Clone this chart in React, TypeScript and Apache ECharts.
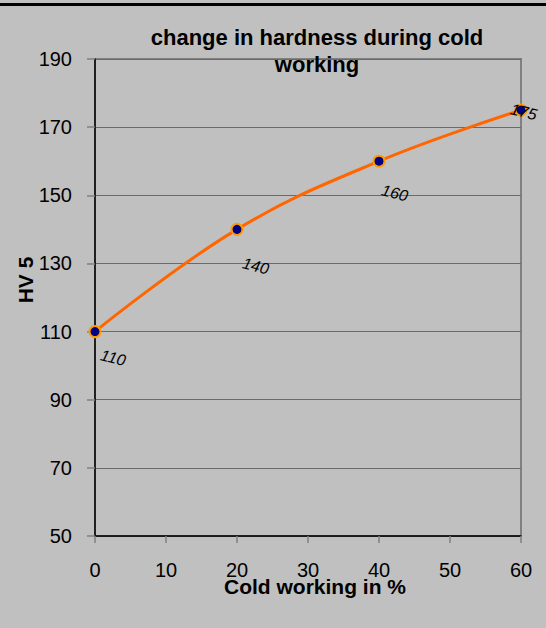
import React, { useEffect, useRef } from "react";
import * as echarts from "echarts";

const coldWorking = [0, 20, 40, 60];
const hardness = [110, 140, 160, 175];
const labelOffsets = [
  [24, 21],
  [27, 31],
  [23, 27],
  [3, 1],
];
const titleText = "change in hardness during cold\nworking";
const xName = "Cold working in %";
const yName = "HV 5";

export default function App() {
  const ref = useRef<HTMLDivElement>(null);
  useEffect(() => {
    const chart = echarts.init(ref.current!, null, { renderer: "svg" });
    const font = "Arial, 'Liberation Sans', sans-serif";
    chart.setOption({
      animation: false,
      backgroundColor: "#c0c0c0",
      textStyle: { fontFamily: font },
      grid: {
        left: 95,
        right: 25,
        top: 59,
        bottom: 92,
        show: true,
        borderColor: "#808080",
        borderWidth: 2,
        backgroundColor: "transparent",
      },
      xAxis: {
        type: "value",
        min: 0,
        max: 60,
        interval: 10,
        axisLine: { show: true, onZero: false, lineStyle: { color: "#000", width: 1.5 } },
        axisTick: { show: true, inside: false, length: 7, lineStyle: { color: "#808080", width: 1.5 } },
        axisLabel: { color: "#000", fontSize: 20, fontFamily: font, margin: 24 },
        splitLine: { show: false },
      },
      yAxis: {
        type: "value",
        min: 50,
        max: 190,
        interval: 20,
        axisLine: { show: true, onZero: false, lineStyle: { color: "#000", width: 1.5 } },
        axisTick: { show: true, inside: false, length: 8, lineStyle: { color: "#808080", width: 1.5 } },
        axisLabel: { color: "#000", fontSize: 20, fontFamily: font, margin: 23 },
        splitLine: { show: true, lineStyle: { color: "#6a6a6a", width: 1 } },
      },
      graphic: [
        { type: "rect", left: 0, top: 3, shape: { width: 546, height: 3 }, style: { fill: "#000" } },
        {
          type: "text",
          x: 317,
          y: 24,
          z: 10,
          style: {
            text: titleText,
            font: `bold 22px ${font}`,
            fill: "#000",
            align: "center",
            verticalAlign: "top",
            lineHeight: 27,
          },
        },
        {
          type: "text",
          x: 315,
          y: 586,
          z: 10,
          style: {
            text: xName,
            font: `bold 21px ${font}`,
            fill: "#000",
            align: "center",
            verticalAlign: "middle",
          },
        },
        {
          type: "text",
          x: 25,
          y: 280,
          rotation: Math.PI / 2,
          style: {
            text: yName,
            font: `bold 21px ${font}`,
            fill: "#000",
            align: "center",
            verticalAlign: "middle",
          },
        },
      ],
      series: [
        {
          type: "line",
          smooth: 0.4,
          data: coldWorking.map((x, i) => ({
            value: [x, hardness[i]],
            label: { offset: labelOffsets[i] },
          })),
          lineStyle: { color: "#ff6600", width: 3 },
          symbol: "circle",
          symbolSize: 11,
          itemStyle: { color: "#000080", borderColor: "#ff9900", borderWidth: 2 },
          label: {
            show: true,
            position: "inside",
            rotate: -14,
            fontStyle: "italic",
            fontSize: 16,
            fontFamily: font,
            color: "#000",
            formatter: (p: any) => String(p.value[1]),
          },
          z: 5,
        },
      ],
    });
    return () => chart.dispose();
  }, []);
  return (
    <div
      ref={ref}
      style={{ position: "fixed", left: 0, top: 0, width: 546, height: 628 }}
    />
  );
}
